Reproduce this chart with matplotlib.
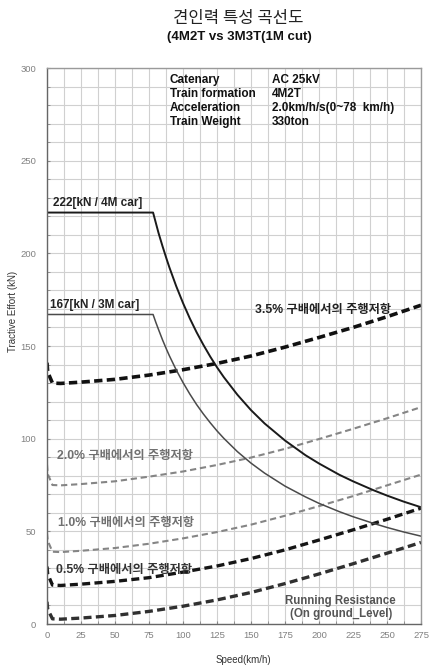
import matplotlib
matplotlib.use("Agg")
import matplotlib.pyplot as plt
from matplotlib.ticker import MultipleLocator

FONTS = ['Liberation Sans', 'Noto Sans CJK KR', 'DejaVu Sans']
plt.rcParams['font.family'] = FONTS

# ---- data ----
te_speed = [0, 78, 80, 82, 85, 88, 90, 95, 100, 105, 110, 115, 120, 125, 130, 140,
            150, 160, 175, 190, 200, 215, 225, 240, 250, 262, 275]
te_4m = [222, 222, 216.5, 211, 203.7, 196.8, 192.4, 182.3, 173.2, 164.9, 157.4, 150.6,
         144.3, 138.5, 133.2, 123.7, 115.4, 108.2, 99, 91.1, 86.6, 80.5, 77, 72.2,
         69.3, 66.1, 63]
te_3m = [167, 167, 162.8, 158.9, 153.2, 148, 144.7, 137.1, 130.3, 124.1, 118.4, 113.3,
         108.6, 104.2, 100.2, 93, 86.8, 81.4, 74.4, 68.6, 65.1, 60.6, 57.9, 54.3,
         52.1, 49.7, 47.4]

rr_speed = [0, 0.5, 4, 10, 25, 50, 75, 100, 125, 150, 175, 200, 225, 250, 275]
rr_ground = [12, 8, 2.8, 2.6, 3.2, 4.6, 6.8, 9.6, 13, 17, 21.8, 27, 32.5, 38.2, 44]
rr_05 = [31, 27, 21, 20.8, 21.5, 23, 25, 28, 31.3, 35.3, 40, 45.3, 50.8, 56.5, 62.5]
rr_10 = [49, 45, 39, 38.8, 39.5, 41, 43.3, 46.2, 49.6, 53.6, 58.4, 63.6, 69, 74.8, 80.6]
rr_20 = [86, 81, 75, 74.8, 75.5, 77, 79.5, 82.3, 85.8, 89.8, 94.5, 99.8, 105.3, 111, 117]
rr_35 = [141, 136, 130, 129.8, 130.5, 132, 134.3, 137.2, 140.6, 144.6, 149.4, 154.6, 160, 165.8, 172]

x_ticks = [0, 25, 50, 75, 100, 125, 150, 175, 200, 225, 250, 275]
y_ticks = [0, 50, 100, 150, 200, 250, 300]

info_keys = ['Catenary', 'Train formation', 'Acceleration', 'Train Weight']
info_vals = ['AC 25kV', '4M2T', '2.0km/h/s(0~78  km/h)', '330ton']

W, H = 429, 669
fig = plt.figure(figsize=(W / 100, H / 100), dpi=100)
ax = fig.add_axes([47 / W, 1 - 624 / H, (421 - 47) / W, (624 - 68) / H])

ax.set_xlim(0, 275)
ax.set_ylim(0, 300)
ax.xaxis.set_minor_locator(MultipleLocator(12.5))
ax.yaxis.set_minor_locator(MultipleLocator(10))
ax.set_xticks(x_ticks)
ax.set_yticks(y_ticks)
ax.grid(which='both', color='#d0d0d0', lw=0.8)
ax.set_axisbelow(True)
ax.tick_params(which='both', length=2, color='#888888', labelsize=6.8,
               labelcolor='#808080', direction='in')
ax.tick_params(axis='y', pad=8)
ax.tick_params(axis='x', pad=5)
for s in ax.spines.values():
    s.set_color('#9a9a9a')
    s.set_linewidth(1.0)
ax.spines['left'].set_color('#666666')
ax.spines['bottom'].set_color('#666666')

# resistance curves
ax.plot(rr_speed, rr_ground, color='#303030', lw=2.4, dashes=(2.4, 1.3))
ax.plot(rr_speed, rr_05, color='#151515', lw=2.4, dashes=(2.4, 1.3))
ax.plot(rr_speed, rr_10, color='#858585', lw=1.5, dashes=(3.0, 1.8))
ax.plot(rr_speed, rr_20, color='#858585', lw=1.5, dashes=(3.0, 1.8))
ax.plot(rr_speed, rr_35, color='#111111', lw=2.6, dashes=(2.3, 1.2))

# tractive effort curves
ax.plot(te_speed, te_4m, color='#1a1a1a', lw=1.4)
ax.plot(te_speed, te_3m, color='#4a4a4a', lw=1.1)

# labels on the chart
bold = dict(fontweight='bold', family=FONTS)
ax.text(4.5, 224, '222[kN / 4M car]', fontsize=8.5, color='#222222', va='bottom', **bold)
ax.text(2.5, 169, '167[kN / 3M car]', fontsize=8.5, color='#222222', va='bottom', **bold)
ax.text(153, 169.5, '3.5% 구배에서의 주행저항', fontsize=8.8, color='#222222', va='center', **bold)
ax.text(7.5, 90.5, '2.0% 구배에서의 주행저항', fontsize=8.8, color='#707070', va='center', **bold)
ax.text(8, 54.5, '1.0% 구배에서의 주행저항', fontsize=8.8, color='#707070', va='center', **bold)
ax.text(6.5, 29, '0.5% 구배에서의 주행저항', fontsize=8.8, color='#333333', va='center', **bold)
ax.text(216, 8.8, 'Running Resistance\n(On ground_Level)', fontsize=8.3, color='#555555',
        ha='center', va='center', linespacing=1.15, **bold)

# info table
rows_y = [80, 94, 108, 122]
for k, v, yy in zip(info_keys, info_vals, rows_y):
    fig.text(170 / W, 1 - yy / H, k, fontsize=8.5, ha='left', va='center', color='#111111', **bold)
    fig.text(272 / W, 1 - yy / H, v, fontsize=8.5, ha='left', va='center', color='#111111', **bold)

# titles
fig.text(238 / W, 1 - 19 / H, '견인력 특성 곡선도', fontsize=12, ha='center', va='center',
         family=['Noto Sans CJK KR', 'DejaVu Sans'], color='#222222')
fig.text(239 / W, 1 - 37 / H, '(4M2T vs 3M3T(1M cut)', fontsize=9.5, ha='center', va='center',
         color='#111111', **bold)

ax.set_xlabel('Speed(km/h)', fontsize=7, color='#333333')
ax.xaxis.set_label_coords((243 - 47) / (421 - 47), -(655 - 624) / (624 - 68))
ax.set_ylabel('Tractive Effort (kN)', fontsize=7, color='#333333')
ax.yaxis.set_label_coords(-(47 - 18) / (421 - 47), (624 - 311) / (624 - 68))

fig.savefig('out.png', dpi=100)
